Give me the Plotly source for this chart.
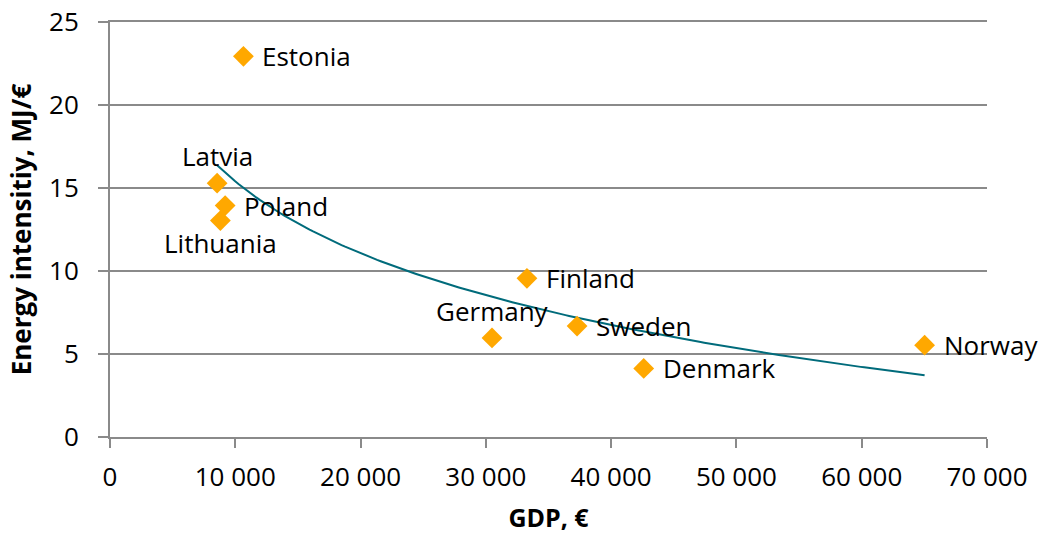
import numpy as np
import plotly.graph_objects as go

# ---- data ----
countries = ["Estonia", "Latvia", "Poland", "Lithuania", "Finland",
             "Germany", "Sweden", "Denmark", "Norway"]
gdp = [10650, 8550, 9190, 8810, 33280, 30490, 37280, 42600, 65020]
energy_intensity = [22.93, 15.29, 13.94, 13.04, 9.56, 5.97, 6.68, 4.13, 5.53]
label_side = ["right", "above", "right", "below", "right",
              "above", "right", "right", "right"]

x_tick_values = [0, 10000, 20000, 30000, 40000, 50000, 60000, 70000]
x_tick_labels = ["0", "10 000", "20 000", "30 000", "40 000", "50 000", "60 000", "70 000"]
y_tick_values = [0, 5, 10, 15, 20, 25]

x_title = "GDP, €"
y_title = "Energy intensitiy, MJ/€"

# ---- logarithmic trendline (least squares, as in the source chart) ----
gx = np.array(gdp, dtype=float)
gy = np.array(energy_intensity, dtype=float)
k, c = np.polyfit(np.log(gx), gy, 1)
trend_x = np.linspace(gx.min(), gx.max(), 200)
trend_y = k * np.log(trend_x) + c

FONT = "Open Sans"
GRID = "#8a8a8a"

fig = go.Figure()
fig.add_trace(go.Scatter(
    x=trend_x, y=trend_y, mode="lines",
    line=dict(color="#006B7B", width=2),
    showlegend=False, hoverinfo="skip",
))
fig.add_trace(go.Scatter(
    x=gdp, y=energy_intensity, mode="markers",
    text=countries,
    marker=dict(symbol="diamond", size=16, color="#FFA800", line=dict(width=0)),
    cliponaxis=False, showlegend=False, hoverinfo="x+y+text",
))

offsets = {
    "right": dict(xanchor="left", yanchor="middle", xshift=17, yshift=0),
    "above": dict(xanchor="center", yanchor="middle", xshift=0, yshift=27),
    "below": dict(xanchor="center", yanchor="middle", xshift=0, yshift=-22),
}
for name, xv, yv, side in zip(countries, gdp, energy_intensity, label_side):
    fig.add_annotation(x=xv, y=yv, text=name, showarrow=False,
                       font=dict(family=FONT, size=26, color="#000000"),
                       **offsets[side])

fig.update_layout(
    width=1045, height=537,
    margin=dict(l=110, r=58, t=22, b=100),
    paper_bgcolor="white", plot_bgcolor="white",
    font=dict(family=FONT, size=26, color="#000000"),
)
fig.update_xaxes(
    range=[0, 70000], tickvals=x_tick_values, ticktext=x_tick_labels,
    showgrid=False, zeroline=False, automargin=False,
    showline=True, mirror=True, linecolor=GRID, linewidth=2,
    ticks="outside", ticklen=9, tickwidth=2, tickcolor=GRID,
    tickfont=dict(family=FONT, size=26),
    ticklabelstandoff=7,
    title=dict(text="<b>" + x_title + "</b>", font=dict(family=FONT, size=25), standoff=16),
)
fig.update_yaxes(
    range=[0, 25], tickvals=y_tick_values,
    showgrid=True, gridcolor=GRID, gridwidth=2, zeroline=False, automargin=False,
    showline=True, linecolor=GRID, linewidth=2,
    ticks="outside", ticklen=10, tickwidth=2, tickcolor=GRID,
    tickfont=dict(family=FONT, size=26),
    ticklabelstandoff=14, ticklabeloverflow="allow",
    title=dict(text="<b>" + y_title + "</b>", font=dict(family=FONT, size=26), standoff=10),
)

fig.write_html(
    "out.html",
    config={"displayModeBar": False},
    post_script="document.body.style.margin='0px';document.body.style.overflow='hidden';",
)
